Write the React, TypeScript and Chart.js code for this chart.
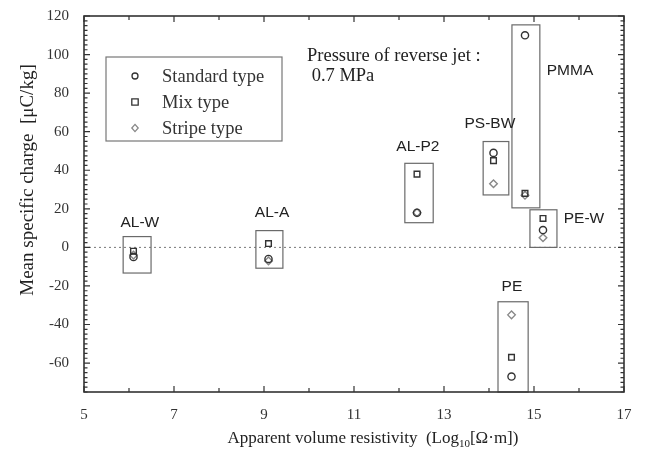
import React, { useEffect, useRef } from 'react';
import { Chart, registerables } from 'chart.js';
Chart.register(...registerables);

const materials = ['AL-W', 'AL-A', 'AL-P2', 'PS-BW', 'PMMA', 'PE-W', 'PE'];
const resistivity = [6.1, 9.1, 12.4, 14.1, 14.8, 15.2, 14.5];
const standardCharge = [-5, -6, 18, 49, 110, 9, -67];
const mixCharge = [-2, 2, 38, 45, 28, 15, -57];
const stripeCharge = [-4, -7, 18, 33, 27, 5, -35];
const boxXMin = [5.87, 8.82, 12.13, 13.87, 14.51, 14.91, 14.2];
const boxXMax = [6.49, 9.42, 12.76, 14.44, 15.13, 15.51, 14.87];
const boxYMin = [-13.3, -10.8, 12.8, 27.2, 20.5, 0, -76];
const boxYMax = [5.6, 8.7, 43.6, 54.9, 115.4, 19.5, -28.2];
const labelX = [6.24, 9.18, 12.42, 14.02, 15.8, 16.11, 14.51];
const labelY = [12.8, 18, 52.3, 64, 91.8, 14.9, -20.5];
const xTicks = [5, 7, 9, 11, 13, 15, 17];
const yTicks = [-60, -40, -20, 0, 20, 40, 60, 80, 100, 120];
const seriesNames = ['Standard type', 'Mix type', 'Stripe type'];
const noteLines = ['Pressure of reverse jet :', ' 0.7 MPa'];

const SERIF = '"Liberation Serif", "Times New Roman", serif';
const SANS = '"Liberation Sans", Arial, sans-serif';

const overlay = {
  id: 'overlay',
  beforeDatasetsDraw(chart: any) {
    const { ctx, chartArea: a, scales } = chart;
    const xs = scales.x, ys = scales.y;
    ctx.save();
    // zero line
    ctx.strokeStyle = '#777';
    ctx.lineWidth = 1;
    ctx.setLineDash([2, 3]);
    ctx.beginPath();
    const y0 = ys.getPixelForValue(0);
    ctx.moveTo(a.left, y0);
    ctx.lineTo(a.right, y0);
    ctx.stroke();
    ctx.setLineDash([]);
    // group boxes
    ctx.strokeStyle = '#6a6a6a';
    ctx.lineWidth = 1.2;
    for (let i = 0; i < materials.length; i++) {
      const x1 = xs.getPixelForValue(boxXMin[i]);
      const x2 = xs.getPixelForValue(boxXMax[i]);
      const y1 = Math.min(ys.getPixelForValue(boxYMax[i]), a.bottom);
      const y2 = Math.min(ys.getPixelForValue(boxYMin[i]), a.bottom);
      ctx.strokeRect(x1, y1, x2 - x1, y2 - y1);
    }
    // labels
    ctx.fillStyle = '#222';
    ctx.font = `15.5px ${SANS}`;
    ctx.textAlign = 'center';
    ctx.textBaseline = 'middle';
    for (let i = 0; i < materials.length; i++) {
      ctx.fillText(materials[i], xs.getPixelForValue(labelX[i]), ys.getPixelForValue(labelY[i]));
    }
    ctx.restore();
  },
  afterDraw(chart: any) {
    const { ctx, chartArea: a, scales } = chart;
    const xs = scales.x, ys = scales.y;
    ctx.save();
    // frame
    ctx.strokeStyle = '#333';
    ctx.lineWidth = 1.6;
    ctx.strokeRect(a.left, a.top, a.right - a.left, a.bottom - a.top);
    // ticks
    ctx.lineWidth = 1.2;
    ctx.beginPath();
    for (let v = xs.min; v <= xs.max + 1e-6; v += 1) {
      const p = xs.getPixelForValue(v);
      const len = xTicks.includes(Math.round(v)) ? 6 : 4;
      ctx.moveTo(p, a.bottom); ctx.lineTo(p, a.bottom - len);
      ctx.moveTo(p, a.top); ctx.lineTo(p, a.top + len);
    }
    for (let v = -75; v <= ys.max + 1e-6; v += 2.5) {
      const p = ys.getPixelForValue(v);
      const len = yTicks.includes(v) ? 6 : 3.5;
      ctx.moveTo(a.left, p); ctx.lineTo(a.left + len, p);
      ctx.moveTo(a.right, p); ctx.lineTo(a.right - len, p);
    }
    ctx.stroke();

    // legend
    const lx = a.left + 22, ly = a.top + 41;
    ctx.strokeStyle = '#777';
    ctx.lineWidth = 1.2;
    ctx.strokeRect(lx, ly, 176, 84);
    ctx.font = `18.5px ${SERIF}`;
    ctx.fillStyle = '#333';
    ctx.textAlign = 'left';
    ctx.textBaseline = 'middle';
    const rows = [19, 45, 71];
    chart.data.datasets.forEach((ds: any, i: number) => {
      const cy = ly + rows[i];
      const cx = lx + 29;
      ctx.strokeStyle = ds.borderColor;
      ctx.lineWidth = 1.3;
      ctx.beginPath();
      if (ds.pointStyle === 'circle') {
        ctx.arc(cx, cy, 3, 0, Math.PI * 2);
      } else if (ds.pointStyle === 'rect') {
        ctx.rect(cx - 3.2, cy - 3.2, 6.4, 6.4);
      } else {
        ctx.moveTo(cx, cy - 3.6); ctx.lineTo(cx + 3.2, cy); ctx.lineTo(cx, cy + 3.6); ctx.lineTo(cx - 3.2, cy); ctx.closePath();
      }
      ctx.stroke();
      ctx.fillStyle = '#333';
      ctx.fillText(ds.label, lx + 56, cy + 1);
    });

    // note text
    ctx.font = `18.5px ${SERIF}`;
    ctx.fillStyle = '#222';
    ctx.fillText(noteLines[0], a.left + 223, a.top + 40);
    ctx.fillText(noteLines[1], a.left + 223, a.top + 60);

    // y title
    ctx.save();
    ctx.translate(28, (a.top + a.bottom) / 2 - 24);
    ctx.rotate(-Math.PI / 2);
    ctx.font = `19px ${SERIF}`;
    ctx.textAlign = 'center';
    ctx.textBaseline = 'middle';
    ctx.fillStyle = '#222';
    ctx.fillText('Mean specific charge  [\u03bcC/kg]', 0, 0);
    ctx.restore();

    // x title with subscript
    const partA = 'Apparent volume resistivity  (Log';
    const partB = '10';
    const partC = '[\u03a9\u00b7m])';
    const big = `17px ${SERIF}`;
    const small = `11px ${SERIF}`;
    ctx.font = big;
    const wA = ctx.measureText(partA).width;
    const wC = ctx.measureText(partC).width;
    ctx.font = small;
    const wB = ctx.measureText(partB).width;
    const total = wA + wB + wC;
    const cx = (a.left + a.right) / 2 + 19;
    let x = cx - total / 2;
    const ty = 439;
    ctx.textAlign = 'left';
    ctx.textBaseline = 'middle';
    ctx.fillStyle = '#222';
    ctx.font = big;
    ctx.fillText(partA, x, ty);
    x += wA;
    ctx.font = small;
    ctx.fillText(partB, x, ty + 5);
    x += wB;
    ctx.font = big;
    ctx.fillText(partC, x, ty);
    ctx.restore();
  },
};

function toPoints(values: number[]) {
  return values.map((v, i) => ({ x: resistivity[i], y: v }));
}

export default function App() {
  const ref = useRef<HTMLCanvasElement>(null);
  useEffect(() => {
    if (!ref.current) return;
    const chart = new Chart(ref.current, {
      type: 'scatter',
      data: {
        datasets: [
          { label: seriesNames[0], data: toPoints(standardCharge), pointStyle: 'circle', pointRadius: 3.6, borderColor: '#333', backgroundColor: 'rgba(0,0,0,0)', borderWidth: 1.4 },
          { label: seriesNames[1], data: toPoints(mixCharge), pointStyle: 'rect', pointRadius: 4, borderColor: '#333', backgroundColor: 'rgba(0,0,0,0)', borderWidth: 1.4 },
          { label: seriesNames[2], data: toPoints(stripeCharge), pointStyle: 'rectRot', pointRadius: 3.8, borderColor: '#888', backgroundColor: 'rgba(0,0,0,0)', borderWidth: 1.4 },
        ],
      },
      options: {
        animation: false,
        responsive: false,
        layout: { padding: { top: 13, right: 24, left: 0, bottom: 0 } },
        plugins: { legend: { display: false }, tooltip: { enabled: false } },
        scales: {
          x: {
            type: 'linear',
            min: 5,
            max: 17,
            grid: { display: false },
            border: { display: false },
            afterBuildTicks: (s: any) => { s.ticks = xTicks.map((v) => ({ value: v })); },
            afterFit: (s: any) => { s.height = 62; },
            ticks: { padding: 6, color: '#333', font: { family: SERIF, size: 15 } },
          },
          y: {
            type: 'linear',
            min: -75,
            max: 120,
            grid: { display: false },
            border: { display: false },
            afterBuildTicks: (s: any) => { s.ticks = yTicks.map((v) => ({ value: v })); },
            afterFit: (s: any) => { s.width = 84; },
            ticks: { padding: 7, color: '#333', font: { family: SERIF, size: 15 } },
          },
        },
      },
      plugins: [overlay],
    });
    return () => chart.destroy();
  }, []);
  return (
    <div style={{ position: 'fixed', left: 0, top: 0, width: 648, height: 454, background: '#fff' }}>
      <canvas ref={ref} width={648} height={454} style={{ display: 'block' }} />
    </div>
  );
}
